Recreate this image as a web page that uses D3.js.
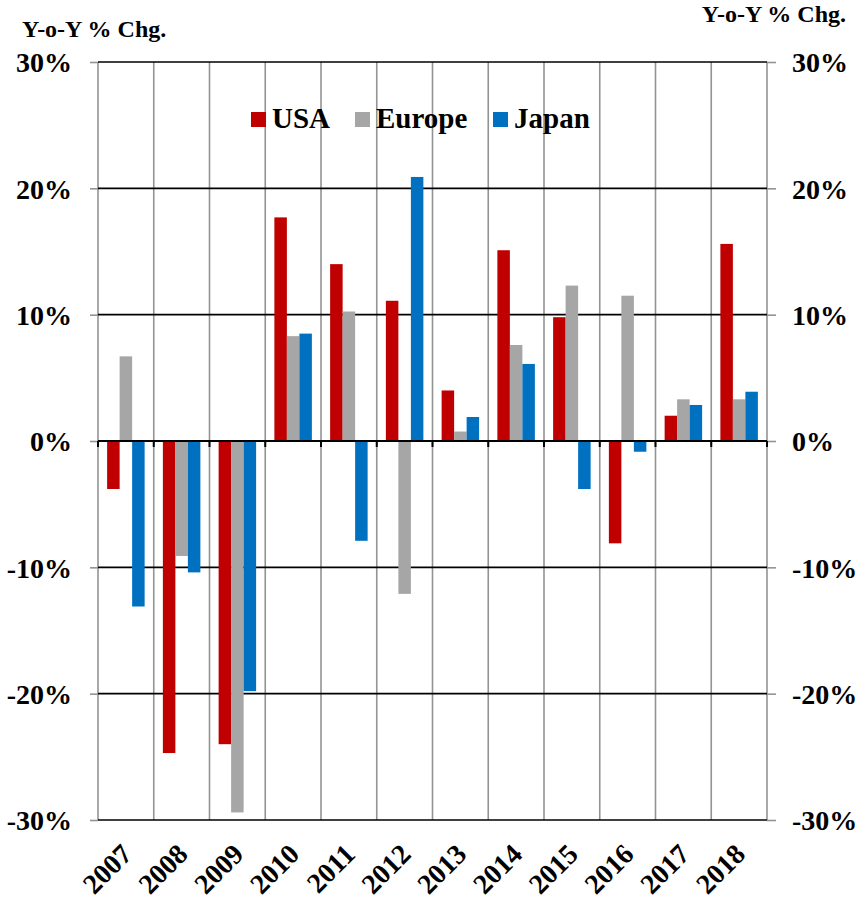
<!DOCTYPE html>
<html>
<head>
<meta charset="utf-8">
<script src="https://cdn.jsdelivr.net/npm/d3@7"></script>
<style>
  body { margin: 0; background: #fff; }
  svg text { font-family: "Liberation Serif", "Times New Roman", serif !important; font-weight: bold; fill: #000; }
</style>
</head>
<body>
<div id="chart"></div>
<script>
var years = ["2007", "2008", "2009", "2010", "2011", "2012", "2013", "2014", "2015", "2016", "2017", "2018"];
var series = ["USA", "Europe", "Japan"];
var usa = [-3.8, -24.7, -24.0, 17.7, 14.0, 11.1, 4.0, 15.1, 9.8, -8.1, 2.0, 15.6];
var europe = [6.7, -9.1, -29.4, 8.3, 10.25, -12.1, 0.75, 7.6, 12.3, 11.5, 3.3, 3.3];
var japan = [-13.1, -10.4, -19.8, 8.5, -7.9, 20.9, 1.9, 6.1, -3.8, -0.85, 2.85, 3.9];
var yTicks = [-30, -20, -10, 0, 10, 20, 30];
var colors = ["#c00000", "#a6a6a6", "#0070c0"];

var values = [usa, europe, japan];
var rows = years.map(function (y, i) {
    return { year: y, vals: series.map(function (s, j) { return { key: s, v: values[j][i] }; }) };
});

var svg = d3.select("#chart")
    .append("svg")
    .attr("width", 856)
    .attr("height", 901);

var plotLeft = 98, plotRight = 767, plotTop = 62, plotBottom = 820;
var serif = '"Liberation Serif", "Times New Roman", serif';

var x0 = d3.scaleBand().domain(years).range([plotLeft, plotRight]);
var x1 = d3.scaleBand().domain(series).range([0, x0.bandwidth()]).paddingOuter(0.73);
var y = d3.scaleLinear().domain([-30, 30]).range([plotBottom, plotTop]);
var color = d3.scaleOrdinal().domain(series).range(colors);
var edges = years.map(d => x0(d)).concat([plotRight]);

// vertical grid at category boundaries
svg.append("g")
    .selectAll("line")
    .data(edges).enter().append("line")
    .attr("x1", d => d).attr("x2", d => d)
    .attr("y1", plotTop).attr("y2", plotBottom)
    .attr("stroke", "#939393").attr("stroke-width", 1.6);

// horizontal grid
svg.append("g")
    .selectAll("line")
    .data(yTicks).enter().append("line")
    .attr("x1", plotLeft).attr("x2", plotRight)
    .attr("y1", d => y(d)).attr("y2", d => y(d))
    .attr("stroke", "#000").attr("stroke-width", 1.6);

// left / right axes
var yl = d3.axisLeft(y).tickValues(yTicks).tickSize(8).tickFormat(d => d + "%");
var yr = d3.axisRight(y).tickValues(yTicks).tickSize(9).tickFormat(d => d + "%");
var gl = svg.append("g").attr("transform", "translate(" + plotLeft + ",0)").call(yl);
var gr = svg.append("g").attr("transform", "translate(" + plotRight + ",0)").call(yr);
[gl, gr].forEach(function (g) {
    g.select(".domain").remove();
    g.attr("font-family", serif).attr("font-size", 28);
    g.selectAll("line").attr("stroke", "#939393").attr("stroke-width", 1.6);
    g.selectAll("text")
        .style("font-family", serif)
        .style("font-weight", "bold")
        .style("font-size", "28px")
        .attr("fill", "#000");
});
gl.selectAll("text").attr("x", -26).attr("dy", "0.35em");
gr.selectAll("text").attr("x", 25).attr("dy", "0.35em");

// bars
var groups = svg.append("g")
    .selectAll("g")
    .data(rows).enter().append("g")
    .attr("transform", d => "translate(" + x0(d.year) + ",0)");
groups.selectAll("rect")
    .data(d => d.vals).enter().append("rect")
    .attr("x", d => x1(d.key))
    .attr("width", x1.bandwidth())
    .attr("y", d => y(Math.max(0, d.v)))
    .attr("height", d => Math.abs(y(d.v) - y(0)))
    .attr("fill", d => color(d.key));

// zero axis with category ticks
svg.append("line")
    .attr("x1", plotLeft).attr("x2", plotRight)
    .attr("y1", y(0)).attr("y2", y(0))
    .attr("stroke", "#000").attr("stroke-width", 2);
svg.append("g")
    .selectAll("line")
    .data(edges).enter().append("line")
    .attr("x1", d => d).attr("x2", d => d)
    .attr("y1", y(0)).attr("y2", y(0) + 6)
    .attr("stroke", "#000").attr("stroke-width", 2);

// year labels
svg.append("g")
    .selectAll("text")
    .data(years).enter().append("text")
    .attr("transform", d => "translate(" + (x0(d) + x0.bandwidth() / 2 - 6) + "," + (plotBottom + 22) + ") rotate(-45)")
    .attr("text-anchor", "end")
    .attr("dy", "0.7em")
    .attr("font-size", 28)
    .text(d => d);

// axis titles
svg.append("text").attr("x", 22).attr("y", 37).attr("font-size", 24).text("Y-o-Y % Chg.");
svg.append("text").attr("x", 846).attr("y", 22).attr("font-size", 24).attr("text-anchor", "end").text("Y-o-Y % Chg.");

// legend
var legendX = [251, 355, 493];
var legend = svg.append("g")
    .selectAll("g")
    .data(series).enter().append("g")
    .attr("transform", (d, i) => "translate(" + legendX[i] + ",112)");
legend.append("rect").attr("width", 15).attr("height", 15).attr("fill", d => color(d));
legend.append("text").attr("x", 21).attr("y", 16).attr("font-size", 29).text(d => d);
</script>
</body>
</html>
